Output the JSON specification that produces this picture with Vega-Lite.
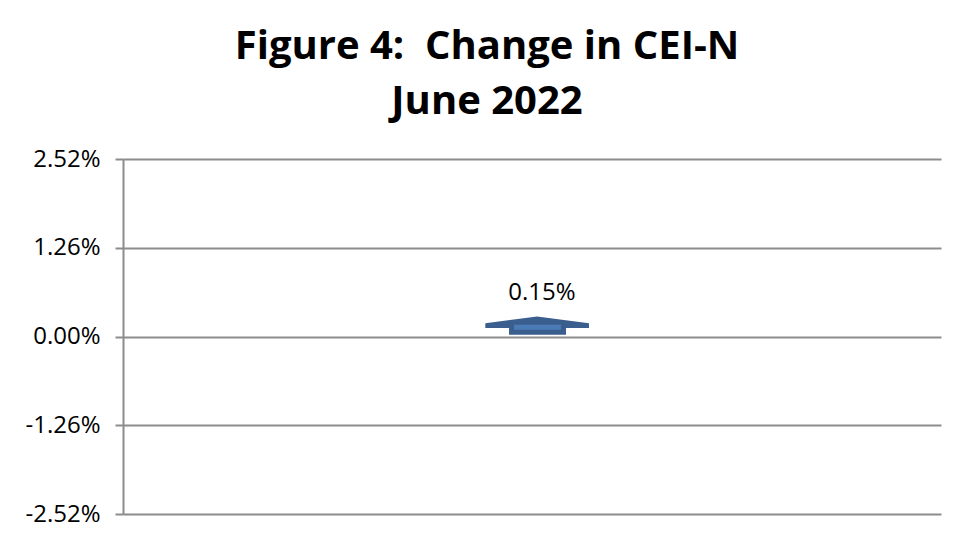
{
  "$schema": "https://vega.github.io/schema/vega-lite/v6.json",
  "autosize": "none",
  "width": 818,
  "height": 355,
  "padding": {"left": 123, "top": 159, "right": 22, "bottom": 29},
  "background": "white",
  "title": {
    "text": ["Figure 4:\u00a0 Change in CEI-N", "June 2022"],
    "font": "Open Sans",
    "fontSize": 40,
    "fontWeight": "bold",
    "color": "black",
    "lineHeight": 55,
    "anchor": "middle",
    "dx": -45,
    "offset": 25
  },
  "data": {"values": [{"month": "June 2022", "change": 0.0015}]},
  "encoding": {
    "x": {"field": "month", "type": "nominal", "axis": null, "scale": {"paddingInner": 0, "paddingOuter": 0}},
    "y": {
      "field": "change",
      "type": "quantitative",
      "scale": {"domain": [-0.0252, 0.0252], "nice": false, "zero": false},
      "axis": {
        "title": null,
        "values": [-0.0252, -0.0126, 0, 0.0126, 0.0252],
        "format": ".2%",
        "labelExpr": "replace(datum.label, '−', '-')",
        "labelFont": "Open Sans",
        "labelFontSize": 24,
        "labelColor": "black",
        "labelPadding": 15,
        "tickSize": 8,
        "tickColor": "#8c8c8c",
        "tickWidth": 2,
        "domainColor": "#8c8c8c",
        "domainWidth": 2,
        "grid": true,
        "gridColor": "#8c8c8c",
        "gridWidth": 2,
        "minExtent": 118
      }
    }
  },
  "layer": [
    {
      "mark": {
        "type": "point",
        "filled": true,
        "opacity": 1,
        "size": 10816,
        "color": "#3a5f8f",
        "strokeWidth": 0,
        "shape": "M-0.898,0.042L-0.898,-0.054L0.096,-0.181L1.096,-0.054L1.096,0.042L0.654,0.042L0.654,0.171L-0.442,0.171L-0.442,0.042Z"
      }
    },
    {
      "mark": {
        "type": "point",
        "filled": true,
        "opacity": 1,
        "size": 10816,
        "color": "#4a7bb7",
        "strokeWidth": 0,
        "shape": "M-0.346,-0.021L0.558,-0.021L0.558,0.075L-0.346,0.075Z"
      }
    },
    {
      "mark": {
        "type": "text",
        "font": "Open Sans",
        "fontSize": 24,
        "color": "black",
        "align": "center",
        "baseline": "alphabetic",
        "dx": 10,
        "dy": -26
      },
      "encoding": {"text": {"field": "change", "type": "quantitative", "format": ".2%"}}
    }
  ],
  "config": {"view": {"stroke": null}}
}
